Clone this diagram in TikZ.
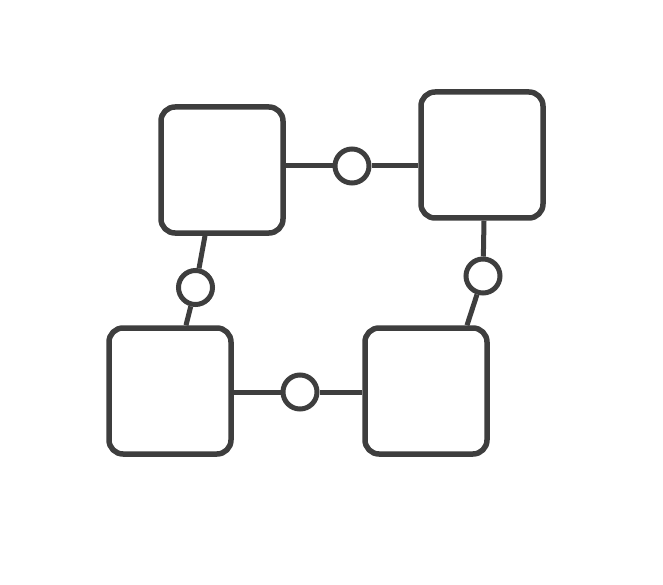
\documentclass[tikz,border=0pt]{standalone}
\usepackage{tikz}
\definecolor{ink}{RGB}{62,62,62}
\begin{document}
\begin{tikzpicture}[x=1pt,y=-1pt,
  boxnode/.style={draw=ink,line width=5.5pt,rounded corners=14pt,minimum width=122pt,minimum height=126pt,inner sep=0pt,fill=white},
  joint/.style={draw=ink,line width=5pt,circle,minimum size=34pt,inner sep=0pt},
  link/.style={draw=ink,line width=5pt}]
\useasboundingbox (0,0) rectangle (663,585);
\node[boxnode] (tl) at (222,170) {};
\node[boxnode] (tr) at (482,155) {};
\node[boxnode] (bl) at (170,391) {};
\node[boxnode] (br) at (426,391) {};
\node[joint] (ct) at (352,166) {};
\node[joint] (cr) at (483,276) {};
\node[joint] (cl) at (195.5,287.5) {};
\node[joint] (cb) at (300,392) {};
\coordinate (tlE) at ([yshift=4pt]tl.east);
\coordinate (trW) at ([yshift=-11pt]tr.west);
\coordinate (trS) at ([xshift=2pt]tr.south);
\coordinate (brN) at ([xshift=41pt]br.north);
\coordinate (tlS) at ([xshift=-17pt]tl.south);
\coordinate (blN) at ([xshift=16pt]bl.north);
\coordinate (blE) at ([yshift=-1pt]bl.east);
\coordinate (brW) at ([yshift=-1pt]br.west);
\draw[link] (tlE) -- (ct);
\draw[link] (ct) -- (trW);
\draw[link] (trS) -- (cr);
\draw[link] (cr) -- (brN);
\draw[link] (tlS) -- (cl);
\draw[link] (cl) -- (blN);
\draw[link] (blE) -- (cb);
\draw[link] (cb) -- (brW);
\end{tikzpicture}
\end{document}
